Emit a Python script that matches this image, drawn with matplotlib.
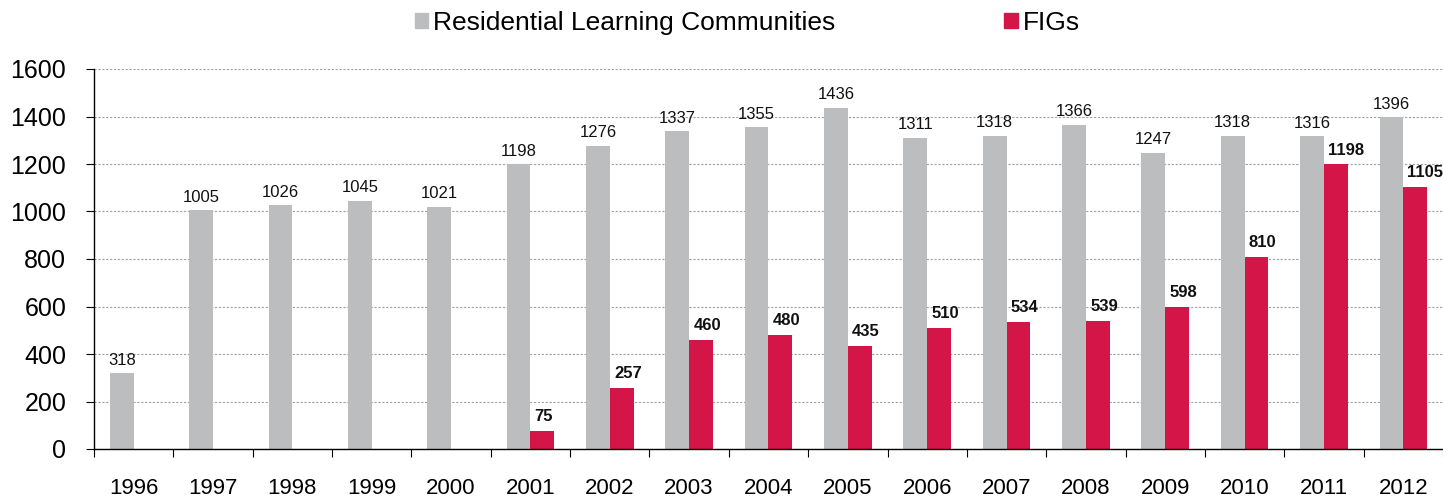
import numpy as np
import matplotlib.pyplot as plt
import matplotlib.patches as patches

plt.rcParams['font.family'] = ['Liberation Sans', 'DejaVu Sans']

years = ['1996', '1997', '1998', '1999', '2000', '2001', '2002', '2003',
         '2004', '2005', '2006', '2007', '2008', '2009', '2010', '2011', '2012']
rlc = [318, 1005, 1026, 1045, 1021, 1198, 1276, 1337, 1355, 1436,
       1311, 1318, 1366, 1247, 1318, 1316, 1396]
# FIGs start in 2001
fig_years = ['2001', '2002', '2003', '2004', '2005', '2006', '2007', '2008',
             '2009', '2010', '2011', '2012']
figs = [75, 257, 460, 480, 435, 510, 534, 539, 598, 810, 1198, 1105]

GREY = '#bcbdbf'
RED = '#d41548'

fig = plt.figure(figsize=(14.43, 5.0), dpi=100)
ax = fig.add_axes([0.0651, 0.102, 0.9349, 0.760])

x = np.arange(len(years))
w = 0.30
fx = np.array([years.index(y) for y in fig_years])

ax.bar(x - w / 2, rlc, width=w, color=GREY, zorder=2)
ax.bar(fx + w / 2, figs, width=w, color=RED, zorder=2)

for xi, v in zip(x, rlc):
    ax.annotate(str(v), (xi - w / 2, v), xytext=(0, 4), textcoords='offset points',
                ha='center', va='bottom', fontsize=12, color='#111111')
for xi, v in zip(fx, figs):
    ax.annotate(str(v), (xi, v), xytext=(3, 5), textcoords='offset points',
                ha='left', va='bottom', fontsize=12, fontweight='bold',
                color='#111111', annotation_clip=False)

ax.set_xlim(-0.5, len(years) - 0.5)
ax.set_ylim(0, 1600)
ax.set_yticks(range(0, 1601, 200))
ax.tick_params(axis='y', labelsize=18, length=6, direction='out', pad=14)

# category labels sit between boundary ticks
ax.set_xticks(np.arange(-0.5, len(years), 1))
ax.set_xticklabels([])
ax.set_xticks(x, minor=True)
ax.set_xticklabels(years, minor=True)
ax.tick_params(axis='x', which='major', length=6, direction='out')
ax.tick_params(axis='x', which='minor', length=0, labelsize=16, pad=21)

ax.yaxis.grid(True, linestyle=(0, (2, 1.5)), color='#a0a0a0', linewidth=0.8, zorder=0)
ax.set_axisbelow(True)
for side in ('top', 'right'):
    ax.spines[side].set_visible(False)
ax.spines['left'].set_linewidth(1.0)
ax.spines['bottom'].set_linewidth(1.0)
ax.spines['bottom'].set_zorder(3)

handles = [patches.Patch(color=GREY, label='Residential Learning Communities'),
           patches.Patch(color=RED, label='FIGs')]
fig.legend(handles=handles, loc='center', bbox_to_anchor=(0.518, 0.954),
           ncol=2, frameon=False, fontsize=19, handlelength=0.5, handleheight=0.5,
           handletextpad=0.2, columnspacing=6.4)

fig.savefig('out.png', dpi=100)
